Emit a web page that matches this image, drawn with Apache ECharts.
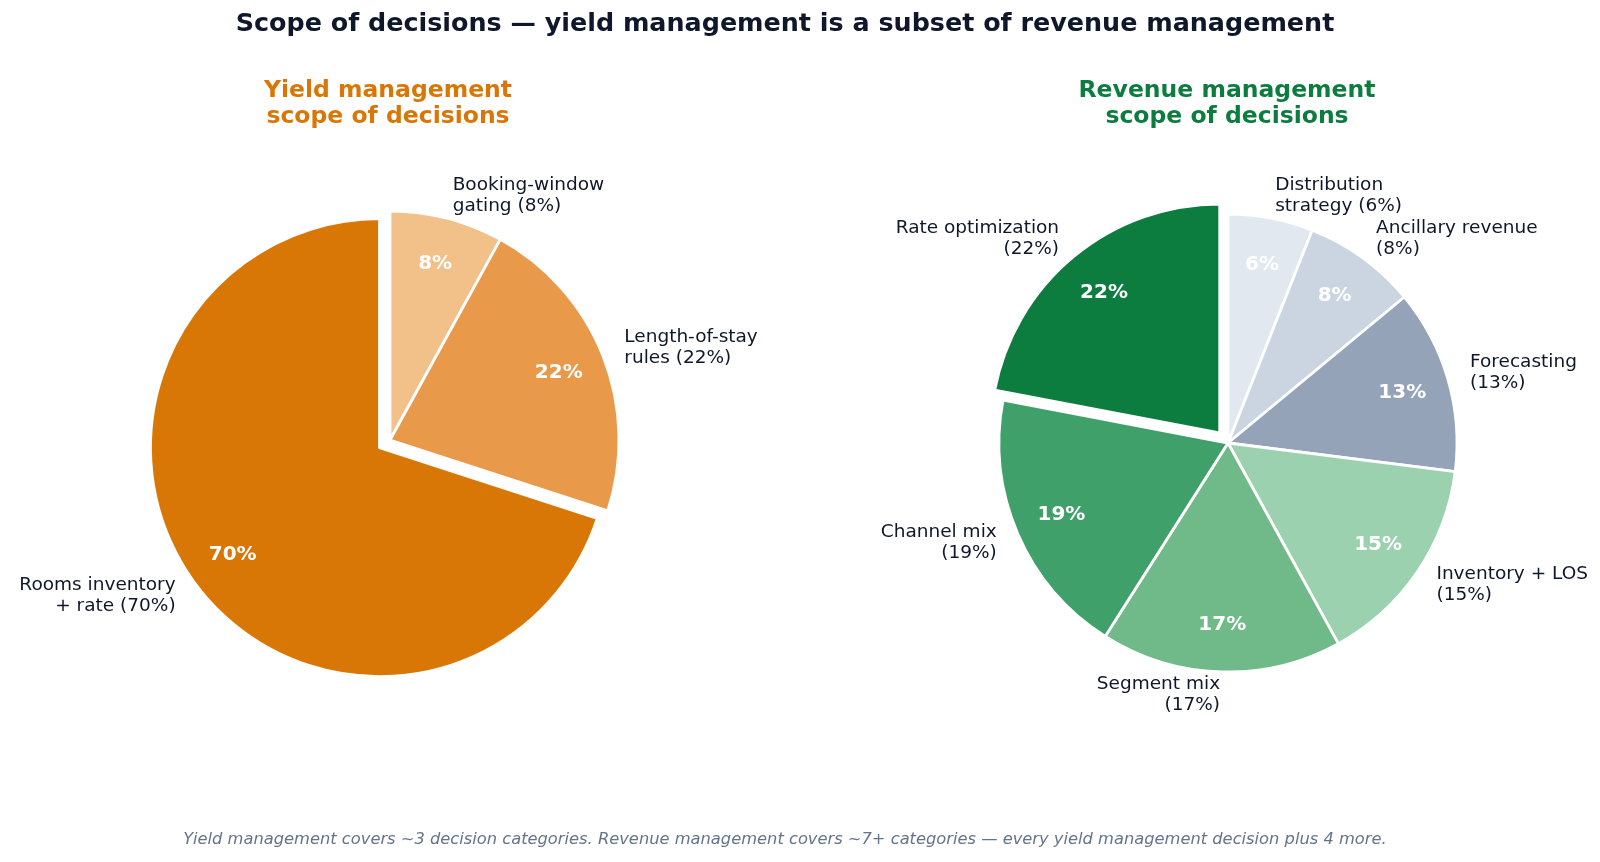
<!DOCTYPE html>
<html>
<head>
<meta charset="utf-8">
<script src="https://cdn.jsdelivr.net/npm/echarts@6/dist/echarts.min.js"></script>
<style>
  html, body { margin: 0; padding: 0; background: #fff; }
  #main { width: 1600px; height: 862px; }
</style>
</head>
<body>
<div id="main"></div>
<script>
var yieldNames = ['Booking-window\ngating', 'Length-of-stay\nrules', 'Rooms inventory\n+ rate'];
var yieldValues = [8, 22, 70];
var yieldColors = ['#f2c189', '#e89a4a', '#d97706'];
var yieldExplode = [false, false, true];

var revNames = ['Distribution\nstrategy', 'Ancillary revenue', 'Forecasting', 'Inventory + LOS', 'Segment mix', 'Channel mix', 'Rate optimization'];
var revValues = [6, 8, 13, 15, 17, 19, 22];
var revColors = ['#e2e8f0', '#cbd5e1', '#94a3b8', '#9bd1ae', '#70b989', '#3fa06a', '#0c7c3f'];
var revExplode = [false, false, false, false, false, false, true];

var FONT = '"DejaVu Sans", sans-serif';
var R = 229;

function outerLabel(p) {
    var sep = p.name.indexOf('\n') >= 0 ? ' ' : '\n';
    return p.name + sep + '(' + p.value + '%)';
}

function makeData(names, values, colors, explode, transparent) {
    return names.map(function (n, i) {
        return {
            name: n,
            value: values[i],
            selected: explode[i],
            itemStyle: transparent ? { color: 'rgba(0,0,0,0)', borderWidth: 0 } : { color: colors[i] }
        };
    });
}

function pieSeries(center, names, values, colors, explode) {
    var base = {
        type: 'pie',
        center: center,
        startAngle: 90,
        clockwise: true,
        selectedMode: 'single',
        selectedOffset: 13,
        avoidLabelOverlap: false,
        silent: true,
        animation: false,
        emphasis: { disabled: true },
        select: { disabled: false }
    };
    var outer = echarts.util.merge({
        radius: [0, R],
        itemStyle: { borderColor: '#ffffff', borderWidth: 2.8 },
        label: {
            show: true,
            position: 'outside',
            formatter: outerLabel,
            color: '#0f172a',
            fontFamily: FONT,
            fontSize: 18.5,
            lineHeight: 21,
            distanceToLabelLine: 0
        },
        labelLine: { show: false, length: 23, length2: 0 },
        data: makeData(names, values, colors, explode, false)
    }, base);
    var inner = echarts.util.merge({
        radius: [128, R],
        label: {
            show: true,
            position: 'inside',
            formatter: function (p) { return p.value + '%'; },
            color: '#ffffff',
            fontFamily: FONT,
            fontWeight: 'bold',
            fontSize: 20
        },
        labelLine: { show: false },
        data: makeData(names, values, colors, explode, true)
    }, base);
    return [outer, inner];
}

var dom = document.getElementById('main');
var myChart = echarts.init(dom);

var option = {
    backgroundColor: '#ffffff',
    graphic: [
        {
            type: 'text', x: 785, y: 24,
            style: {
                text: 'Scope of decisions \u2014 yield management is a subset of revenue management',
                font: 'bold 25.4px ' + FONT, fill: '#0f172a', align: 'center', verticalAlign: 'middle'
            }
        },
        {
            type: 'text', x: 388, y: 104,
            style: {
                text: 'Yield management\nscope of decisions',
                font: 'bold 23.5px ' + FONT, fill: '#d97706', align: 'center', verticalAlign: 'middle', lineHeight: 26.5
            }
        },
        {
            type: 'text', x: 1227, y: 104,
            style: {
                text: 'Revenue management\nscope of decisions',
                font: 'bold 23.5px ' + FONT, fill: '#0c7c3f', align: 'center', verticalAlign: 'middle', lineHeight: 26.5
            }
        },
        {
            type: 'text', x: 785, y: 840,
            style: {
                text: 'Yield management covers ~3 decision categories. Revenue management covers ~7+ categories \u2014 every yield management decision plus 4 more.',
                font: 'italic 16.3px ' + FONT, fill: '#64748b', align: 'center', verticalAlign: 'middle'
            }
        }
    ],
    series: [].concat(
        pieSeries([390, 440], yieldNames, yieldValues, yieldColors, yieldExplode),
        pieSeries([1228, 443], revNames, revValues, revColors, revExplode)
    )
};

myChart.setOption(option);

window.addEventListener('resize', function () {
    myChart.resize();
});
</script>
</body>
</html>
